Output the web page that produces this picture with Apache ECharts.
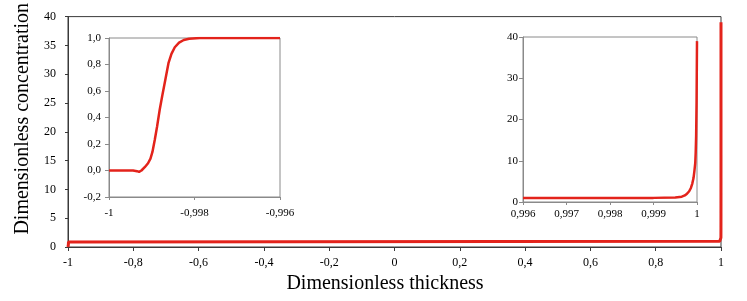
<!DOCTYPE html>
<html>
<head>
<meta charset="utf-8">
<script src="https://cdn.jsdelivr.net/npm/echarts@6/dist/echarts.min.js"></script>
<style>html,body{margin:0;padding:0;background:#fff}#c{width:747px;height:301px}</style>
</head>
<body>
<div id="c"></div>
<script>
// Left boundary layer (inset 1)
const leftX = [-1, -0.999438, -0.999344, -0.999297, -0.999241, -0.999164, -0.999087, -0.999030, -0.998984, -0.998930, -0.998876, -0.998813, -0.998751, -0.998679, -0.998609, -0.998539, -0.998461, -0.998361, -0.998251, -0.998126, -0.997876, -0.996];
const leftY = [0, 0, -0.005, -0.01, 0.0, 0.025, 0.055, 0.09, 0.14, 0.23, 0.33, 0.46, 0.57, 0.69, 0.81, 0.88, 0.93, 0.965, 0.985, 0.995, 1.0, 1.0];
// Right boundary layer (inset 2)
const rightX = [0.996, 0.999, 0.9995, 0.99965, 0.99972, 0.99977, 0.99982, 0.99986, 0.99989, 0.99992, 0.99994, 0.99996, 0.99997, 0.99998, 0.99999, 1.0];
const rightY = [1, 1, 1.1, 1.3, 1.6, 2.0, 2.6, 3.4, 4.4, 5.8, 7.5, 9.5, 12, 16, 24, 39];

const xTitle = 'Dimensionless thickness';
const yTitle = 'Dimensionless concentration';

const RED = '#e3231b';
const FONT = "'Liberation Serif', serif";

function pairs(xs, ys){ return xs.map((x,i)=>[x, ys[i]]); }
const leftData = pairs(leftX, leftY);
const rightData = pairs(rightX, rightY);
const mainData = leftData.concat(rightData);

function fmt(v){ return String(Number(v.toFixed(6))).replace('.', ','); }
function fmt1(v){ return v.toFixed(1).replace('.', ','); }

const chart = echarts.init(document.getElementById('c'), null, {renderer:'canvas'});

const mainAxisLine = {show:true, onZero:false, lineStyle:{color:'#3a3a3a', width:1}};
const insetAxisLine = {show:true, onZero:false, lineStyle:{color:'#8a8a8a', width:1}};

chart.setOption({
  animation:false,
  backgroundColor:'#fff',
  textStyle:{fontFamily:FONT},
  grid:[
    {left:68, top:16, width:653, height:231, show:true, borderColor:'#3a3a3a', borderWidth:1, backgroundColor:'transparent'},
    {left:109, top:38, width:171, height:159, show:true, borderColor:'#8a8a8a', borderWidth:1, backgroundColor:'#fff'},
    {left:523, top:37, width:174, height:165, show:true, borderColor:'#8a8a8a', borderWidth:1, backgroundColor:'#fff'}
  ],
  xAxis:[
    {gridIndex:0, type:'value', min:-1, max:1, interval:0.2,
     name:xTitle, nameLocation:'middle', nameGap:23,
     nameTextStyle:{fontFamily:FONT, fontSize:20, color:'#000', padding:[0,19,0,0]},
     axisLine:mainAxisLine, axisTick:{show:true, length:4, lineStyle:{color:'#3a3a3a'}},
     axisLabel:{fontFamily:FONT, fontSize:12, color:'#000', margin:10, formatter:fmt},
     splitLine:{show:false}},
    {gridIndex:1, type:'value', min:-1, max:-0.996, interval:0.002,
     axisLine:insetAxisLine, axisTick:{show:true, length:3, lineStyle:{color:'#8a8a8a'}},
     axisLabel:{fontFamily:FONT, fontSize:11, color:'#000', margin:11, formatter:fmt},
     splitLine:{show:false}},
    {gridIndex:2, type:'value', min:0.996, max:1, interval:0.001,
     axisLine:insetAxisLine, axisTick:{show:true, length:3, lineStyle:{color:'#8a8a8a'}},
     axisLabel:{fontFamily:FONT, fontSize:11, color:'#000', margin:7, formatter:fmt},
     splitLine:{show:false}}
  ],
  yAxis:[
    {gridIndex:0, type:'value', min:0, max:40, interval:5,
     name:yTitle, nameLocation:'middle', nameGap:33,
     nameTextStyle:{fontFamily:FONT, fontSize:20, color:'#000', padding:[0,0,0,26]},
     axisLine:mainAxisLine, axisTick:{show:true, length:3, lineStyle:{color:'#3a3a3a'}},
     axisLabel:{fontFamily:FONT, fontSize:12, color:'#000', margin:12, formatter:fmt},
     splitLine:{show:false}},
    {gridIndex:1, type:'value', min:-0.2, max:1.0, interval:0.2,
     axisLine:insetAxisLine, axisTick:{show:true, length:4, lineStyle:{color:'#8a8a8a'}},
     axisLabel:{fontFamily:FONT, fontSize:11, color:'#000', margin:8, formatter:fmt1},
     splitLine:{show:false}},
    {gridIndex:2, type:'value', min:0, max:40, interval:10,
     axisLine:insetAxisLine, axisTick:{show:true, length:4, lineStyle:{color:'#8a8a8a'}},
     axisLabel:{fontFamily:FONT, fontSize:11, color:'#000', margin:5, formatter:fmt},
     splitLine:{show:false}}
  ],
  series:[
    {type:'line', xAxisIndex:0, yAxisIndex:0, data:mainData, showSymbol:false, symbol:'none',
     lineStyle:{color:RED, width:3}, clip:false, z:3},
    {type:'line', xAxisIndex:1, yAxisIndex:1, data:leftData, showSymbol:false, symbol:'none',
     lineStyle:{color:RED, width:2.5}, clip:true, z:5},
    {type:'line', xAxisIndex:2, yAxisIndex:2, data:rightData, showSymbol:false, symbol:'none',
     lineStyle:{color:RED, width:2.5}, clip:true, z:5}
  ]
});
</script>
</body>
</html>
